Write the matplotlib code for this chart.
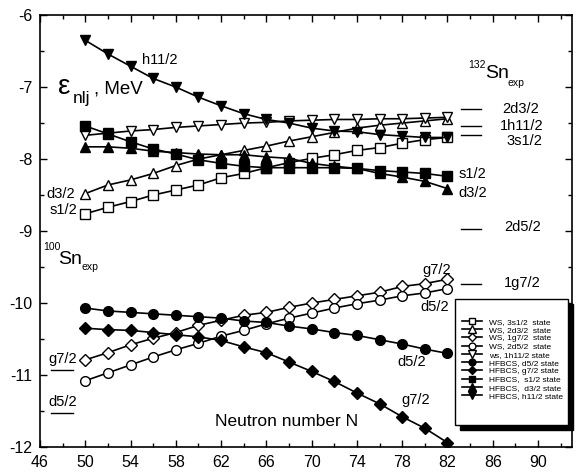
import matplotlib.pyplot as plt
from matplotlib.patches import Rectangle
from matplotlib.ticker import MultipleLocator

plt.rcParams['font.family'] = ['Liberation Sans', 'DejaVu Sans']
plt.rcParams['mathtext.fontset'] = 'custom'
plt.rcParams['mathtext.rm'] = 'Liberation Sans'
plt.rcParams['mathtext.it'] = 'Liberation Sans:italic'
plt.rcParams['axes.unicode_minus'] = False

# neutron number
N = [50, 52, 54, 56, 58, 60, 62, 64, 66, 68, 70, 72, 74, 76, 78, 80, 82]

# Woods-Saxon single particle energies (MeV)
ws_3s12 = [-8.76, -8.67, -8.59, -8.50, -8.43, -8.36, -8.26, -8.20, -8.12, -8.05, -7.99, -7.94, -7.88, -7.84, -7.78, -7.73, -7.70]
ws_2d32 = [-8.48, -8.36, -8.29, -8.20, -8.09, -8.00, -7.94, -7.88, -7.82, -7.75, -7.69, -7.63, -7.57, -7.53, -7.50, -7.47, -7.44]
ws_1g72 = [-10.79, -10.69, -10.58, -10.49, -10.41, -10.31, -10.24, -10.17, -10.13, -10.06, -10.00, -9.95, -9.90, -9.85, -9.77, -9.73, -9.67]
ws_2d52 = [-11.08, -10.97, -10.86, -10.75, -10.65, -10.56, -10.46, -10.38, -10.29, -10.21, -10.14, -10.07, -10.01, -9.96, -9.90, -9.86, -9.80]
ws_1h112 = [-7.67, -7.64, -7.61, -7.59, -7.56, -7.54, -7.52, -7.50, -7.49, -7.47, -7.46, -7.45, -7.45, -7.44, -7.44, -7.43, -7.42]

# HFBCS
hf_d52 = [-10.07, -10.11, -10.13, -10.15, -10.17, -10.19, -10.21, -10.25, -10.27, -10.32, -10.36, -10.41, -10.45, -10.51, -10.57, -10.64, -10.70]
hf_g72 = [-10.35, -10.37, -10.38, -10.41, -10.44, -10.47, -10.52, -10.61, -10.69, -10.82, -10.95, -11.09, -11.25, -11.40, -11.58, -11.74, -11.94]
hf_s12 = [-7.54, -7.65, -7.76, -7.86, -7.93, -8.01, -8.06, -8.10, -8.12, -8.12, -8.12, -8.12, -8.13, -8.16, -8.18, -8.20, -8.24]
hf_d32 = [-7.83, -7.83, -7.85, -7.89, -7.91, -7.93, -7.94, -7.94, -7.97, -7.99, -8.06, -8.10, -8.13, -8.20, -8.25, -8.31, -8.41]
hf_h112 = [-6.35, -6.54, -6.71, -6.88, -7.00, -7.14, -7.26, -7.37, -7.45, -7.50, -7.57, -7.61, -7.62, -7.66, -7.68, -7.70, -7.70]

# experimental levels
sn132_labels = ['2d3/2', '1h11/2', '3s1/2', '2d5/2', '1g7/2']
sn132_levels = [-7.30, -7.54, -7.66, -8.97, -9.73]
sn132_label_y = [-7.30, -7.54, -7.75, -8.94, -9.72]
sn132_label_x = [86.8, 86.6, 87.2, 87.0, 87.0]
sn100_labels = ['g7/2', 'd5/2']
sn100_levels = [-10.93, -11.53]

x_ticks = [46, 50, 54, 58, 62, 66, 70, 74, 78, 82, 86, 90]

fig = plt.figure(figsize=(5.77, 4.72), dpi=100)
ax = fig.add_axes([0.0693, 0.053, 0.922, 0.915])

lw = 1.2
ax.plot(N, ws_3s12, 's-', color='k', mfc='white', ms=6.5, lw=lw, label='WS, 3s1/2  state')
ax.plot(N, ws_2d32, '^-', color='k', mfc='white', ms=7.5, lw=lw, label='WS, 2d3/2  state')
ax.plot(N, ws_1g72, 'D-', color='k', mfc='white', ms=6, lw=lw, label='WS, 1g7/2  state')
ax.plot(N, ws_2d52, 'o-', color='k', mfc='white', ms=7, lw=lw, label='WS, 2d5/2  state')
ax.plot(N, ws_1h112, 'v-', color='k', mfc='white', ms=7.5, lw=lw, label='ws, 1h11/2 state')
ax.plot(N, hf_d52, 'o-', color='k', ms=7, lw=lw, label='HFBCS, d5/2 state')
ax.plot(N, hf_g72, 'D-', color='k', ms=6, lw=lw, label='HFBCS, g7/2 state')
ax.plot(N, hf_s12, 's-', color='k', ms=6.5, lw=lw, label='HFBCS,  s1/2 state')
ax.plot(N, hf_d32, '^-', color='k', ms=7.5, lw=lw, label='HFBCS,  d3/2 state')
ax.plot(N, hf_h112, 'v-', color='k', ms=7.5, lw=lw, label='HFBCS, h11/2 state')

# experimental levels as short bars
for lev, lab, lx, ly in zip(sn132_levels, sn132_labels, sn132_label_x, sn132_label_y):
    ax.plot([83.2, 85.0], [lev, lev], color='k', lw=1)
    ax.text(lx, ly, lab, fontsize=10.5, va='center', ha='left')
for lev, lab in zip(sn100_levels, sn100_labels):
    ax.plot([47.0, 48.9], [lev, lev], color='k', lw=1)
    ax.text(46.7, lev + 0.15, lab, fontsize=10.5, va='center', ha='left')

# nucleus labels
ax.text(83.8, -6.69, '132', fontsize=7.5, va='center')
ax.text(85.35, -6.81, 'Sn', fontsize=14, va='center')
ax.text(87.3, -6.95, 'exp', fontsize=7.5, va='center')
ax.text(46.25, -9.22, '100', fontsize=7.5, va='center')
ax.text(47.6, -9.40, 'Sn', fontsize=14, va='center')
ax.text(49.7, -9.50, 'exp', fontsize=7.5, va='center')

# curve labels
ax.text(55.0, -6.62, 'h11/2', fontsize=10.5, va='center')
ax.text(46.6, -8.49, 'd3/2', fontsize=10.5, va='center')
ax.text(46.85, -8.71, 's1/2', fontsize=10.5, va='center')
ax.text(83.0, -8.21, 's1/2', fontsize=10.5, va='center')
ax.text(83.0, -8.47, 'd3/2', fontsize=10.5, va='center')
ax.text(79.8, -9.54, 'g7/2', fontsize=10.5, va='center')
ax.text(79.6, -10.05, 'd5/2', fontsize=10.5, va='center')
ax.text(77.6, -10.82, 'd5/2', fontsize=10.5, va='center')
ax.text(77.9, -11.35, 'g7/2', fontsize=10.5, va='center')
ax.text(61.5, -11.65, 'Neutron number N', fontsize=12.5, va='center')

# y label: epsilon_nlj, MeV
ax.text(47.59, -7.097, 'ε', fontsize=20, va='baseline')
ax.text(48.88, -7.222, 'nlj', fontsize=12.5, va='baseline')
ax.text(50.78, -7.087, ', MeV', fontsize=13.5, va='baseline')

ax.set_xlim(46, 93)
ax.set_ylim(-12, -6)
ax.set_xticks(x_ticks)
ax.xaxis.set_minor_locator(MultipleLocator(2))
ax.yaxis.set_major_locator(MultipleLocator(1))
ax.yaxis.set_minor_locator(MultipleLocator(0.5))
ax.tick_params(which='both', direction='in', top=True, right=True, width=1, labelsize=11.5, pad=5.5)
ax.tick_params(which='major', length=5)
ax.tick_params(which='minor', length=3)
for s in ax.spines.values():
    s.set_linewidth(1.2)

# legend box with black shadow
ax.add_patch(Rectangle((0.7894, 0.0394), 0.212, 0.292, transform=ax.transAxes,
                       facecolor='k', edgecolor='k', zorder=4, clip_on=False))
ax.add_patch(Rectangle((0.780, 0.051), 0.212, 0.292, transform=ax.transAxes,
                       facecolor='white', edgecolor='k', lw=1, zorder=4.5, clip_on=False))
leg = ax.legend(loc='center', bbox_to_anchor=(0.888, 0.204), frameon=False, fontsize=6,
                labelspacing=0.05, handlelength=2.4, handletextpad=0.8, markerscale=0.7,
                borderaxespad=0, borderpad=0)
leg.set_zorder(5)

plt.savefig('out.png', dpi=100)
